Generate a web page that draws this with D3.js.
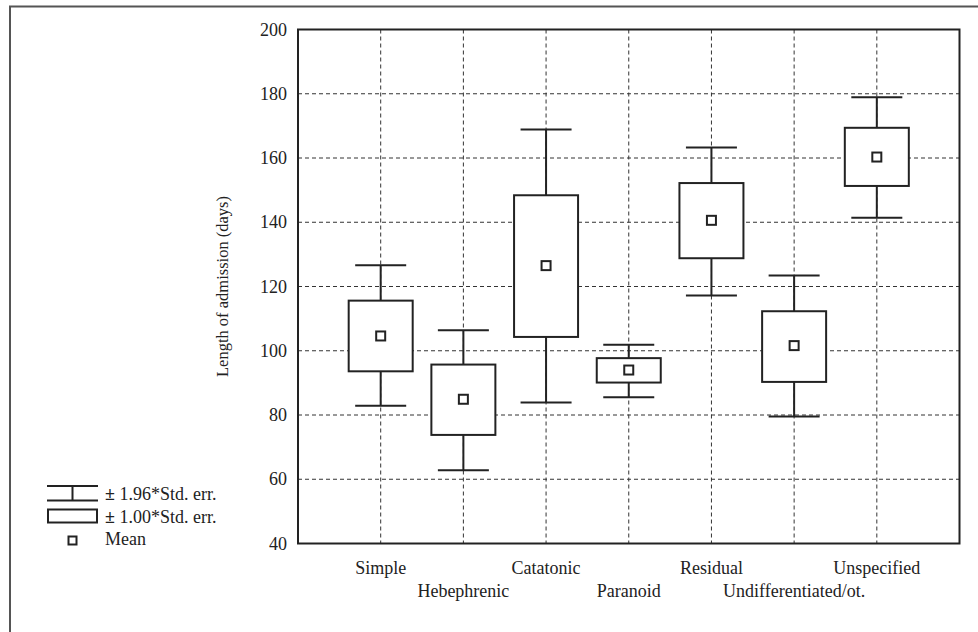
<!DOCTYPE html>
<html>
<head>
<meta charset="utf-8">
<style>
    body { margin: 0; background: #fff; }
    svg { display: block; font-family: 'Liberation Serif', 'DejaVu Serif', serif; }
    .grid line { stroke: #333; stroke-dasharray: 4,3; stroke-width: 1; }
    .tick-label { font-size: 18px; fill: #222; }
    .cat-label { font-size: 18px; fill: #222; }
    .legend text { font-size: 18px; fill: #222; }
</style>
</head>
<body>
<svg width="978" height="632"></svg>
<script src="https://d3js.org/d3.v7.min.js"></script>
<script>
    // schizophrenia subtypes and length of admission (days)
    let categories = ["Simple", "Hebephrenic", "Catatonic", "Paranoid", "Residual", "Undifferentiated/ot.", "Unspecified"]
    let means     = [104.6, 84.9, 126.5, 94.0, 140.6, 101.6, 160.3]
    let boxLow    = [93.6, 73.8, 104.3, 90.1, 128.8, 90.3, 151.3]
    let boxHigh   = [115.6, 95.7, 148.4, 97.7, 152.2, 112.3, 169.4]
    let whiskLow  = [82.9, 62.8, 83.9, 85.5, 117.2, 79.5, 141.4]
    let whiskHigh = [126.6, 106.4, 168.9, 101.9, 163.3, 123.4, 178.9]
    let yTicks = [40, 60, 80, 100, 120, 140, 160, 180, 200]

    let data = categories.map((c, i) => ({
        cat: c, mean: means[i], lo: boxLow[i], hi: boxHigh[i], wlo: whiskLow[i], whi: whiskHigh[i]
    }))

    let svg = d3.select("svg")
    let margin = {top: 29.5, right: 18.5, bottom: 88.5, left: 298}
    let width = 978, height = 632

    let x = d3.scalePoint()
        .domain(categories)
        .range([margin.left, width - margin.right])
        .padding(1)

    let y = d3.scaleLinear()
        .domain([40, 200])
        .range([height - margin.bottom, margin.top])

    // outer frame (only left and top edges visible)
    svg.append("path")
        .attr("d", "M10,632 L10,6.5 L978,6.5")
        .attr("fill", "none")
        .attr("stroke", "#555")
        .attr("stroke-width", 2)

    // grid
    let grid = svg.append("g").attr("class", "grid")
    grid.selectAll(".hg")
        .data(yTicks.slice(1, -1))
        .join("line")
        .attr("x1", margin.left).attr("x2", width - margin.right)
        .attr("y1", d => y(d)).attr("y2", d => y(d))
    grid.selectAll(".vg")
        .data(categories)
        .join("line")
        .attr("x1", d => x(d)).attr("x2", d => x(d))
        .attr("y1", margin.top).attr("y2", height - margin.bottom)

    // plot frame
    svg.append("rect")
        .attr("x", margin.left).attr("y", margin.top)
        .attr("width", width - margin.right - margin.left)
        .attr("height", height - margin.bottom - margin.top)
        .attr("fill", "none")
        .attr("stroke", "#222")
        .attr("stroke-width", 2)

    // y tick labels
    svg.selectAll(".tick-label")
        .data(yTicks)
        .join("text")
        .attr("class", "tick-label")
        .attr("x", margin.left - 11)
        .attr("y", d => y(d) + 6)
        .attr("text-anchor", "end")
        .text(d => d)

    // y axis title
    svg.append("text")
        .attr("transform", `translate(222, ${(margin.top + height - margin.bottom) / 2}) rotate(-90)`)
        .attr("text-anchor", "middle")
        .attr("dy", "0.35em")
        .style("font-size", "16.5px")
        .style("fill", "#222")
        .text("Length of admission (days)")

    // category labels, staggered
    svg.selectAll(".cat-label")
        .data(categories)
        .join("text")
        .attr("class", "cat-label")
        .attr("x", d => x(d))
        .attr("y", (d, i) => i % 2 == 0 ? 574 : 597)
        .attr("text-anchor", "middle")
        .text(d => d)

    // boxes
    let boxW = 64, capW = 51, meanS = 9
    let g = svg.append("g")
        .attr("stroke", "#222")
        .attr("stroke-width", 2)
        .attr("fill", "none")

    g.selectAll(".whisker")
        .data(data)
        .join("path")
        .attr("d", d => {
            let cx = x(d.cat)
            return `M${cx},${y(d.whi)}V${y(d.hi)}M${cx},${y(d.lo)}V${y(d.wlo)}` +
                `M${cx - capW / 2},${y(d.whi)}H${cx + capW / 2}` +
                `M${cx - capW / 2},${y(d.wlo)}H${cx + capW / 2}`
        })

    g.selectAll(".box")
        .data(data)
        .join("rect")
        .attr("x", d => x(d.cat) - boxW / 2)
        .attr("y", d => y(d.hi))
        .attr("width", boxW)
        .attr("height", d => y(d.lo) - y(d.hi))
        .attr("fill", "#fff")

    g.selectAll(".mean")
        .data(data)
        .join("rect")
        .attr("x", d => x(d.cat) - meanS / 2)
        .attr("y", d => y(d.mean) - meanS / 2)
        .attr("width", meanS)
        .attr("height", meanS)
        .attr("fill", "#fff")

    // legend
    let leg = svg.append("g").attr("class", "legend")
    leg.append("path")
        .attr("d", "M47,486H98M47,500.5H98M72.5,486V500.5")
        .attr("stroke", "#222").attr("stroke-width", 2).attr("fill", "none")
    leg.append("rect")
        .attr("x", 48).attr("y", 509.5).attr("width", 49).attr("height", 13)
        .attr("stroke", "#222").attr("stroke-width", 2).attr("fill", "none")
    leg.append("rect")
        .attr("x", 68.5).attr("y", 536.5).attr("width", 8).attr("height", 8)
        .attr("stroke", "#222").attr("stroke-width", 2).attr("fill", "none")

    let legText = [["±", " 1.96*Std. err."], ["±", " 1.00*Std. err."], ["", "Mean"]]
    leg.selectAll(".lt")
        .data(legText)
        .join("text")
        .attr("x", 105)
        .attr("y", (d, i) => 500 + i * 22.5)
        .each(function (d) {
            let t = d3.select(this)
            if (d[0]) t.append("tspan").style("font-weight", "bold").text(d[0])
            t.append("tspan").text(d[1])
        })
</script>
</body>
</html>
